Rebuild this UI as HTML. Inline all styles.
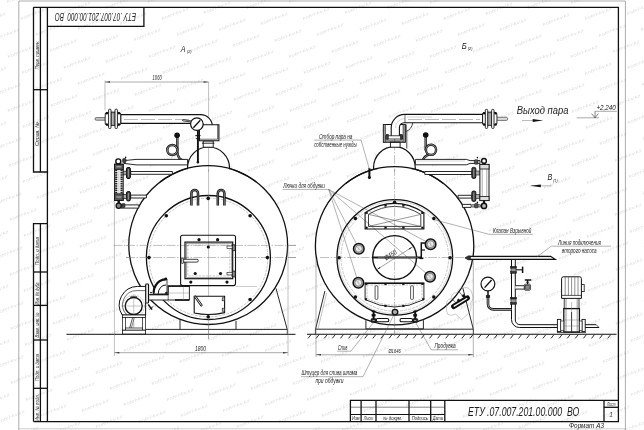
<!DOCTYPE html>
<html><head><meta charset="utf-8"><title>ЕТУ.07.007.201.00.000 ВО</title>
<style>
html,body{margin:0;padding:0;background:#fff;}
body{width:644px;height:430px;overflow:hidden;font-family:"Liberation Sans",sans-serif;}
svg{display:block;font-family:"Liberation Sans",sans-serif;will-change:transform;}
</style></head><body>
<svg width="644" height="430" viewBox="0 0 644 430">
<rect width="644" height="430" fill="#fff"/>
<defs><text id="wm" font-size="4.4" font-style="italic" textLength="29" lengthAdjust="spacingAndGlyphs" transform="rotate(-20.8)">kotel-kv.kz</text></defs>
<g fill="#dfdfdf">
<use href="#wm" x="-17" y="406"/>
<use href="#wm" x="-2" y="423"/>
<use href="#wm" x="12" y="439"/>
<use href="#wm" x="-17" y="352"/>
<use href="#wm" x="-3" y="368"/>
<use href="#wm" x="11" y="384"/>
<use href="#wm" x="26" y="401"/>
<use href="#wm" x="40" y="417"/>
<use href="#wm" x="54" y="434"/>
<use href="#wm" x="-18" y="297"/>
<use href="#wm" x="-3" y="314"/>
<use href="#wm" x="11" y="330"/>
<use href="#wm" x="25" y="346"/>
<use href="#wm" x="39" y="363"/>
<use href="#wm" x="54" y="379"/>
<use href="#wm" x="68" y="395"/>
<use href="#wm" x="82" y="412"/>
<use href="#wm" x="96" y="428"/>
<use href="#wm" x="111" y="444"/>
<use href="#wm" x="-18" y="243"/>
<use href="#wm" x="-4" y="259"/>
<use href="#wm" x="10" y="276"/>
<use href="#wm" x="24" y="292"/>
<use href="#wm" x="39" y="308"/>
<use href="#wm" x="53" y="325"/>
<use href="#wm" x="67" y="341"/>
<use href="#wm" x="82" y="357"/>
<use href="#wm" x="96" y="374"/>
<use href="#wm" x="110" y="390"/>
<use href="#wm" x="124" y="406"/>
<use href="#wm" x="139" y="423"/>
<use href="#wm" x="153" y="439"/>
<use href="#wm" x="-19" y="188"/>
<use href="#wm" x="-5" y="205"/>
<use href="#wm" x="10" y="221"/>
<use href="#wm" x="24" y="237"/>
<use href="#wm" x="38" y="254"/>
<use href="#wm" x="52" y="270"/>
<use href="#wm" x="67" y="286"/>
<use href="#wm" x="81" y="303"/>
<use href="#wm" x="95" y="319"/>
<use href="#wm" x="109" y="336"/>
<use href="#wm" x="124" y="352"/>
<use href="#wm" x="138" y="368"/>
<use href="#wm" x="152" y="385"/>
<use href="#wm" x="167" y="401"/>
<use href="#wm" x="181" y="417"/>
<use href="#wm" x="195" y="434"/>
<use href="#wm" x="-20" y="134"/>
<use href="#wm" x="-5" y="150"/>
<use href="#wm" x="9" y="167"/>
<use href="#wm" x="23" y="183"/>
<use href="#wm" x="37" y="199"/>
<use href="#wm" x="52" y="216"/>
<use href="#wm" x="66" y="232"/>
<use href="#wm" x="80" y="248"/>
<use href="#wm" x="95" y="265"/>
<use href="#wm" x="109" y="281"/>
<use href="#wm" x="123" y="297"/>
<use href="#wm" x="137" y="314"/>
<use href="#wm" x="152" y="330"/>
<use href="#wm" x="166" y="346"/>
<use href="#wm" x="180" y="363"/>
<use href="#wm" x="194" y="379"/>
<use href="#wm" x="209" y="396"/>
<use href="#wm" x="223" y="412"/>
<use href="#wm" x="237" y="428"/>
<use href="#wm" x="252" y="445"/>
<use href="#wm" x="-20" y="79"/>
<use href="#wm" x="-6" y="96"/>
<use href="#wm" x="8" y="112"/>
<use href="#wm" x="23" y="128"/>
<use href="#wm" x="37" y="145"/>
<use href="#wm" x="51" y="161"/>
<use href="#wm" x="65" y="178"/>
<use href="#wm" x="80" y="194"/>
<use href="#wm" x="94" y="210"/>
<use href="#wm" x="108" y="227"/>
<use href="#wm" x="122" y="243"/>
<use href="#wm" x="137" y="259"/>
<use href="#wm" x="151" y="276"/>
<use href="#wm" x="165" y="292"/>
<use href="#wm" x="180" y="308"/>
<use href="#wm" x="194" y="325"/>
<use href="#wm" x="208" y="341"/>
<use href="#wm" x="222" y="357"/>
<use href="#wm" x="237" y="374"/>
<use href="#wm" x="251" y="390"/>
<use href="#wm" x="265" y="406"/>
<use href="#wm" x="279" y="423"/>
<use href="#wm" x="294" y="439"/>
<use href="#wm" x="-21" y="25"/>
<use href="#wm" x="-7" y="41"/>
<use href="#wm" x="8" y="58"/>
<use href="#wm" x="22" y="74"/>
<use href="#wm" x="36" y="90"/>
<use href="#wm" x="51" y="107"/>
<use href="#wm" x="65" y="123"/>
<use href="#wm" x="79" y="139"/>
<use href="#wm" x="93" y="156"/>
<use href="#wm" x="108" y="172"/>
<use href="#wm" x="122" y="188"/>
<use href="#wm" x="136" y="205"/>
<use href="#wm" x="150" y="221"/>
<use href="#wm" x="165" y="238"/>
<use href="#wm" x="179" y="254"/>
<use href="#wm" x="193" y="270"/>
<use href="#wm" x="208" y="287"/>
<use href="#wm" x="222" y="303"/>
<use href="#wm" x="236" y="319"/>
<use href="#wm" x="250" y="336"/>
<use href="#wm" x="265" y="352"/>
<use href="#wm" x="279" y="368"/>
<use href="#wm" x="293" y="385"/>
<use href="#wm" x="307" y="401"/>
<use href="#wm" x="322" y="417"/>
<use href="#wm" x="336" y="434"/>
<use href="#wm" x="7" y="3"/>
<use href="#wm" x="21" y="20"/>
<use href="#wm" x="36" y="36"/>
<use href="#wm" x="50" y="52"/>
<use href="#wm" x="64" y="69"/>
<use href="#wm" x="78" y="85"/>
<use href="#wm" x="93" y="101"/>
<use href="#wm" x="107" y="118"/>
<use href="#wm" x="121" y="134"/>
<use href="#wm" x="136" y="150"/>
<use href="#wm" x="150" y="167"/>
<use href="#wm" x="164" y="183"/>
<use href="#wm" x="178" y="199"/>
<use href="#wm" x="193" y="216"/>
<use href="#wm" x="207" y="232"/>
<use href="#wm" x="221" y="249"/>
<use href="#wm" x="235" y="265"/>
<use href="#wm" x="250" y="281"/>
<use href="#wm" x="264" y="298"/>
<use href="#wm" x="278" y="314"/>
<use href="#wm" x="293" y="330"/>
<use href="#wm" x="307" y="347"/>
<use href="#wm" x="321" y="363"/>
<use href="#wm" x="335" y="379"/>
<use href="#wm" x="350" y="396"/>
<use href="#wm" x="364" y="412"/>
<use href="#wm" x="378" y="428"/>
<use href="#wm" x="392" y="445"/>
<use href="#wm" x="49" y="-2"/>
<use href="#wm" x="64" y="14"/>
<use href="#wm" x="78" y="30"/>
<use href="#wm" x="92" y="47"/>
<use href="#wm" x="106" y="63"/>
<use href="#wm" x="121" y="80"/>
<use href="#wm" x="135" y="96"/>
<use href="#wm" x="149" y="112"/>
<use href="#wm" x="163" y="129"/>
<use href="#wm" x="178" y="145"/>
<use href="#wm" x="192" y="161"/>
<use href="#wm" x="206" y="178"/>
<use href="#wm" x="221" y="194"/>
<use href="#wm" x="235" y="210"/>
<use href="#wm" x="249" y="227"/>
<use href="#wm" x="263" y="243"/>
<use href="#wm" x="278" y="259"/>
<use href="#wm" x="292" y="276"/>
<use href="#wm" x="306" y="292"/>
<use href="#wm" x="320" y="309"/>
<use href="#wm" x="335" y="325"/>
<use href="#wm" x="349" y="341"/>
<use href="#wm" x="363" y="358"/>
<use href="#wm" x="378" y="374"/>
<use href="#wm" x="392" y="390"/>
<use href="#wm" x="406" y="407"/>
<use href="#wm" x="420" y="423"/>
<use href="#wm" x="435" y="439"/>
<use href="#wm" x="106" y="9"/>
<use href="#wm" x="120" y="25"/>
<use href="#wm" x="134" y="41"/>
<use href="#wm" x="149" y="58"/>
<use href="#wm" x="163" y="74"/>
<use href="#wm" x="177" y="91"/>
<use href="#wm" x="191" y="107"/>
<use href="#wm" x="206" y="123"/>
<use href="#wm" x="220" y="140"/>
<use href="#wm" x="234" y="156"/>
<use href="#wm" x="248" y="172"/>
<use href="#wm" x="263" y="189"/>
<use href="#wm" x="277" y="205"/>
<use href="#wm" x="291" y="221"/>
<use href="#wm" x="306" y="238"/>
<use href="#wm" x="320" y="254"/>
<use href="#wm" x="334" y="270"/>
<use href="#wm" x="348" y="287"/>
<use href="#wm" x="363" y="303"/>
<use href="#wm" x="377" y="319"/>
<use href="#wm" x="391" y="336"/>
<use href="#wm" x="405" y="352"/>
<use href="#wm" x="420" y="369"/>
<use href="#wm" x="434" y="385"/>
<use href="#wm" x="448" y="401"/>
<use href="#wm" x="463" y="418"/>
<use href="#wm" x="477" y="434"/>
<use href="#wm" x="148" y="3"/>
<use href="#wm" x="162" y="20"/>
<use href="#wm" x="177" y="36"/>
<use href="#wm" x="191" y="52"/>
<use href="#wm" x="205" y="69"/>
<use href="#wm" x="219" y="85"/>
<use href="#wm" x="234" y="101"/>
<use href="#wm" x="248" y="118"/>
<use href="#wm" x="262" y="134"/>
<use href="#wm" x="276" y="151"/>
<use href="#wm" x="291" y="167"/>
<use href="#wm" x="305" y="183"/>
<use href="#wm" x="319" y="200"/>
<use href="#wm" x="334" y="216"/>
<use href="#wm" x="348" y="232"/>
<use href="#wm" x="362" y="249"/>
<use href="#wm" x="376" y="265"/>
<use href="#wm" x="391" y="281"/>
<use href="#wm" x="405" y="298"/>
<use href="#wm" x="419" y="314"/>
<use href="#wm" x="433" y="330"/>
<use href="#wm" x="448" y="347"/>
<use href="#wm" x="462" y="363"/>
<use href="#wm" x="476" y="380"/>
<use href="#wm" x="490" y="396"/>
<use href="#wm" x="505" y="412"/>
<use href="#wm" x="519" y="429"/>
<use href="#wm" x="533" y="445"/>
<use href="#wm" x="190" y="-2"/>
<use href="#wm" x="204" y="14"/>
<use href="#wm" x="219" y="31"/>
<use href="#wm" x="233" y="47"/>
<use href="#wm" x="247" y="63"/>
<use href="#wm" x="262" y="80"/>
<use href="#wm" x="276" y="96"/>
<use href="#wm" x="290" y="112"/>
<use href="#wm" x="304" y="129"/>
<use href="#wm" x="319" y="145"/>
<use href="#wm" x="333" y="161"/>
<use href="#wm" x="347" y="178"/>
<use href="#wm" x="361" y="194"/>
<use href="#wm" x="376" y="211"/>
<use href="#wm" x="390" y="227"/>
<use href="#wm" x="404" y="243"/>
<use href="#wm" x="419" y="260"/>
<use href="#wm" x="433" y="276"/>
<use href="#wm" x="447" y="292"/>
<use href="#wm" x="461" y="309"/>
<use href="#wm" x="476" y="325"/>
<use href="#wm" x="490" y="341"/>
<use href="#wm" x="504" y="358"/>
<use href="#wm" x="518" y="374"/>
<use href="#wm" x="533" y="390"/>
<use href="#wm" x="547" y="407"/>
<use href="#wm" x="561" y="423"/>
<use href="#wm" x="575" y="440"/>
<use href="#wm" x="247" y="9"/>
<use href="#wm" x="261" y="25"/>
<use href="#wm" x="275" y="42"/>
<use href="#wm" x="289" y="58"/>
<use href="#wm" x="304" y="74"/>
<use href="#wm" x="318" y="91"/>
<use href="#wm" x="332" y="107"/>
<use href="#wm" x="347" y="123"/>
<use href="#wm" x="361" y="140"/>
<use href="#wm" x="375" y="156"/>
<use href="#wm" x="389" y="172"/>
<use href="#wm" x="404" y="189"/>
<use href="#wm" x="418" y="205"/>
<use href="#wm" x="432" y="222"/>
<use href="#wm" x="446" y="238"/>
<use href="#wm" x="461" y="254"/>
<use href="#wm" x="475" y="271"/>
<use href="#wm" x="489" y="287"/>
<use href="#wm" x="504" y="303"/>
<use href="#wm" x="518" y="320"/>
<use href="#wm" x="532" y="336"/>
<use href="#wm" x="546" y="352"/>
<use href="#wm" x="561" y="369"/>
<use href="#wm" x="575" y="385"/>
<use href="#wm" x="589" y="401"/>
<use href="#wm" x="603" y="418"/>
<use href="#wm" x="618" y="434"/>
<use href="#wm" x="289" y="3"/>
<use href="#wm" x="303" y="20"/>
<use href="#wm" x="317" y="36"/>
<use href="#wm" x="332" y="53"/>
<use href="#wm" x="346" y="69"/>
<use href="#wm" x="360" y="85"/>
<use href="#wm" x="374" y="102"/>
<use href="#wm" x="389" y="118"/>
<use href="#wm" x="403" y="134"/>
<use href="#wm" x="417" y="151"/>
<use href="#wm" x="432" y="167"/>
<use href="#wm" x="446" y="183"/>
<use href="#wm" x="460" y="200"/>
<use href="#wm" x="474" y="216"/>
<use href="#wm" x="489" y="232"/>
<use href="#wm" x="503" y="249"/>
<use href="#wm" x="517" y="265"/>
<use href="#wm" x="531" y="282"/>
<use href="#wm" x="546" y="298"/>
<use href="#wm" x="560" y="314"/>
<use href="#wm" x="574" y="331"/>
<use href="#wm" x="589" y="347"/>
<use href="#wm" x="603" y="363"/>
<use href="#wm" x="617" y="380"/>
<use href="#wm" x="631" y="396"/>
<use href="#wm" x="646" y="412"/>
<use href="#wm" x="331" y="-2"/>
<use href="#wm" x="345" y="14"/>
<use href="#wm" x="360" y="31"/>
<use href="#wm" x="374" y="47"/>
<use href="#wm" x="388" y="64"/>
<use href="#wm" x="402" y="80"/>
<use href="#wm" x="417" y="96"/>
<use href="#wm" x="431" y="113"/>
<use href="#wm" x="445" y="129"/>
<use href="#wm" x="459" y="145"/>
<use href="#wm" x="474" y="162"/>
<use href="#wm" x="488" y="178"/>
<use href="#wm" x="502" y="194"/>
<use href="#wm" x="517" y="211"/>
<use href="#wm" x="531" y="227"/>
<use href="#wm" x="545" y="243"/>
<use href="#wm" x="559" y="260"/>
<use href="#wm" x="574" y="276"/>
<use href="#wm" x="588" y="292"/>
<use href="#wm" x="602" y="309"/>
<use href="#wm" x="616" y="325"/>
<use href="#wm" x="631" y="342"/>
<use href="#wm" x="645" y="358"/>
<use href="#wm" x="388" y="9"/>
<use href="#wm" x="402" y="25"/>
<use href="#wm" x="416" y="42"/>
<use href="#wm" x="430" y="58"/>
<use href="#wm" x="445" y="74"/>
<use href="#wm" x="459" y="91"/>
<use href="#wm" x="473" y="107"/>
<use href="#wm" x="487" y="124"/>
<use href="#wm" x="502" y="140"/>
<use href="#wm" x="516" y="156"/>
<use href="#wm" x="530" y="173"/>
<use href="#wm" x="544" y="189"/>
<use href="#wm" x="559" y="205"/>
<use href="#wm" x="573" y="222"/>
<use href="#wm" x="587" y="238"/>
<use href="#wm" x="602" y="254"/>
<use href="#wm" x="616" y="271"/>
<use href="#wm" x="630" y="287"/>
<use href="#wm" x="644" y="303"/>
<use href="#wm" x="430" y="4"/>
<use href="#wm" x="444" y="20"/>
<use href="#wm" x="458" y="36"/>
<use href="#wm" x="473" y="53"/>
<use href="#wm" x="487" y="69"/>
<use href="#wm" x="501" y="85"/>
<use href="#wm" x="515" y="102"/>
<use href="#wm" x="530" y="118"/>
<use href="#wm" x="544" y="134"/>
<use href="#wm" x="558" y="151"/>
<use href="#wm" x="572" y="167"/>
<use href="#wm" x="587" y="184"/>
<use href="#wm" x="601" y="200"/>
<use href="#wm" x="615" y="216"/>
<use href="#wm" x="630" y="233"/>
<use href="#wm" x="644" y="249"/>
<use href="#wm" x="472" y="-2"/>
<use href="#wm" x="486" y="15"/>
<use href="#wm" x="500" y="31"/>
<use href="#wm" x="515" y="47"/>
<use href="#wm" x="529" y="64"/>
<use href="#wm" x="543" y="80"/>
<use href="#wm" x="558" y="96"/>
<use href="#wm" x="572" y="113"/>
<use href="#wm" x="586" y="129"/>
<use href="#wm" x="600" y="145"/>
<use href="#wm" x="615" y="162"/>
<use href="#wm" x="629" y="178"/>
<use href="#wm" x="643" y="195"/>
<use href="#wm" x="528" y="9"/>
<use href="#wm" x="543" y="26"/>
<use href="#wm" x="557" y="42"/>
<use href="#wm" x="571" y="58"/>
<use href="#wm" x="585" y="75"/>
<use href="#wm" x="600" y="91"/>
<use href="#wm" x="614" y="107"/>
<use href="#wm" x="628" y="124"/>
<use href="#wm" x="643" y="140"/>
<use href="#wm" x="571" y="4"/>
<use href="#wm" x="585" y="20"/>
<use href="#wm" x="599" y="37"/>
<use href="#wm" x="613" y="53"/>
<use href="#wm" x="628" y="69"/>
<use href="#wm" x="642" y="86"/>
<use href="#wm" x="613" y="-2"/>
<use href="#wm" x="627" y="15"/>
<use href="#wm" x="641" y="31"/>
</g>
<path d="M18.8 430V1H625.4V430" stroke="#8a8a8a" stroke-width="0.7" fill="none"/>
<line x1="18.8" y1="428.8" x2="625.4" y2="428.8" stroke="#aaa" stroke-width="0.6" />
<path d="M33.5 7.3H618.4V421.6H33.5" stroke="#111" stroke-width="1.3" fill="none" />
<line x1="47.4" y1="7.3" x2="47.4" y2="421.6" stroke="#111" stroke-width="1.3" />
<path d="M33.5 7.3V172H47.4" stroke="#111" stroke-width="1.3" fill="none" />
<line x1="40.4" y1="7.3" x2="40.4" y2="172.0" stroke="#111" stroke-width="1.3" />
<line x1="33.5" y1="89.7" x2="47.4" y2="89.7" stroke="#111" stroke-width="1.3" />
<path d="M47.4 223.6H33.5V421.6" stroke="#111" stroke-width="1.3" fill="none" />
<line x1="40.4" y1="223.6" x2="40.4" y2="421.6" stroke="#111" stroke-width="1.3" />
<line x1="33.5" y1="272.0" x2="47.4" y2="272.0" stroke="#111" stroke-width="1.3" />
<line x1="33.5" y1="305.4" x2="47.4" y2="305.4" stroke="#111" stroke-width="1.3" />
<line x1="33.5" y1="340.0" x2="47.4" y2="340.0" stroke="#111" stroke-width="1.3" />
<line x1="33.5" y1="388.3" x2="47.4" y2="388.3" stroke="#111" stroke-width="1.3" />
<text transform="translate(39.0 55.0) rotate(-90)" font-size="5.3" font-style="italic" text-anchor="middle" fill="#222" textLength="29" lengthAdjust="spacingAndGlyphs">Перв. примен.</text>
<text transform="translate(39.0 134.0) rotate(-90)" font-size="5.3" font-style="italic" text-anchor="middle" fill="#222" textLength="24" lengthAdjust="spacingAndGlyphs">Справ. №</text>
<text transform="translate(39.0 251.0) rotate(-90)" font-size="5.3" font-style="italic" text-anchor="middle" fill="#222" textLength="28" lengthAdjust="spacingAndGlyphs">Подп. и дата</text>
<text transform="translate(39.0 293.0) rotate(-90)" font-size="5.3" font-style="italic" text-anchor="middle" fill="#222" textLength="23" lengthAdjust="spacingAndGlyphs">Инв. № дубл.</text>
<text transform="translate(39.0 325.0) rotate(-90)" font-size="5.3" font-style="italic" text-anchor="middle" fill="#222" textLength="25" lengthAdjust="spacingAndGlyphs">Взам. инв. №</text>
<text transform="translate(39.0 367.5) rotate(-90)" font-size="5.3" font-style="italic" text-anchor="middle" fill="#222" textLength="27" lengthAdjust="spacingAndGlyphs">Подп. и дата</text>
<text transform="translate(39.0 407.5) rotate(-90)" font-size="5.3" font-style="italic" text-anchor="middle" fill="#222" textLength="27" lengthAdjust="spacingAndGlyphs">Инв. № подл.</text>
<path d="M47.4 26.4H143.9V7.3" stroke="#111" stroke-width="1.3" fill="none" />
<text transform="translate(135.9 12.9) rotate(180)" font-size="11.0" font-style="italic" fill="#222" textLength="81" lengthAdjust="spacingAndGlyphs">ЕТУ .07.007.201.00.000&#160;&#160;ВО</text>
<path d="M350.4 421.6V400.3H618.4" stroke="#111" stroke-width="1.3" fill="none" />
<line x1="361.1" y1="400.3" x2="361.1" y2="421.6" stroke="#111" stroke-width="1.3" />
<line x1="376.0" y1="400.3" x2="376.0" y2="421.6" stroke="#111" stroke-width="1.3" />
<line x1="409.0" y1="400.3" x2="409.0" y2="421.6" stroke="#111" stroke-width="1.3" />
<line x1="430.7" y1="400.3" x2="430.7" y2="421.6" stroke="#111" stroke-width="1.3" />
<line x1="444.8" y1="400.3" x2="444.8" y2="421.6" stroke="#111" stroke-width="1.3" />
<line x1="350.4" y1="407.2" x2="444.8" y2="407.2" stroke="#333" stroke-width="0.6" />
<line x1="350.4" y1="414.5" x2="444.8" y2="414.5" stroke="#111" stroke-width="1.0" />
<line x1="604.0" y1="400.3" x2="604.0" y2="421.6" stroke="#111" stroke-width="1.3" />
<line x1="604.0" y1="407.3" x2="618.4" y2="407.3" stroke="#111" stroke-width="1.3" />
<text x="355.8" y="420.2" font-size="4.8" font-style="italic" text-anchor="middle" fill="#222" textLength="7.5" lengthAdjust="spacingAndGlyphs">Изм</text>
<text x="368.5" y="420.2" font-size="4.8" font-style="italic" text-anchor="middle" fill="#222" textLength="9.5" lengthAdjust="spacingAndGlyphs">Лист</text>
<text x="392.5" y="420.2" font-size="4.8" font-style="italic" text-anchor="middle" fill="#222" textLength="19" lengthAdjust="spacingAndGlyphs">№ докум.</text>
<text x="419.8" y="420.2" font-size="4.8" font-style="italic" text-anchor="middle" fill="#222" textLength="16" lengthAdjust="spacingAndGlyphs">Подпись</text>
<text x="437.8" y="420.2" font-size="4.8" font-style="italic" text-anchor="middle" fill="#222" textLength="10" lengthAdjust="spacingAndGlyphs">Дата</text>
<text x="611.2" y="405.8" font-size="4.8" font-style="italic" text-anchor="middle" fill="#222" textLength="8.6" lengthAdjust="spacingAndGlyphs">Лист</text>
<text x="611.2" y="416.9" font-size="6.6" font-style="italic" text-anchor="middle" fill="#444">1</text>
<text x="468.0" y="416.0" font-size="13.6" font-style="italic" fill="#1a1a1a" textLength="111.4" lengthAdjust="spacingAndGlyphs">ЕТУ .07.007.201.00.000&#160;&#160;ВО</text>
<text x="569.0" y="428.2" font-size="7.4" font-style="italic" fill="#222" textLength="35" lengthAdjust="spacingAndGlyphs">Формат А3</text>
<line x1="208.6" y1="82.0" x2="208.6" y2="339.0" stroke="#808080" stroke-width="0.5" />
<line x1="113.5" y1="245.4" x2="296.0" y2="245.4" stroke="#808080" stroke-width="0.5" stroke-dasharray="9 1.5 1.5 1.5"/>
<line x1="126.0" y1="257.5" x2="296.0" y2="257.5" stroke="#808080" stroke-width="0.5" stroke-dasharray="9 1.5 1.5 1.5"/>
<line x1="66.5" y1="334.3" x2="295.5" y2="334.3" stroke="#111" stroke-width="1.0" />
<line x1="145.6" y1="329.4" x2="287.3" y2="329.4" stroke="#111" stroke-width="0.9" />
<line x1="287.3" y1="329.4" x2="287.3" y2="334.3" stroke="#111" stroke-width="0.8" />
<line x1="180.0" y1="319.5" x2="180.0" y2="329.4" stroke="#111" stroke-width="0.9" />
<line x1="236.0" y1="320.8" x2="236.0" y2="329.4" stroke="#111" stroke-width="0.9" />
<line x1="276.0" y1="288.4" x2="287.2" y2="329.4" stroke="#111" stroke-width="0.9" />
<circle cx="208.2" cy="245.1" r="79.4" stroke="#111" stroke-width="1.3" fill="#fff" />
<circle cx="208.4" cy="257.5" r="62.0" stroke="#111" stroke-width="1.3" fill="none" />
<circle cx="208.4" cy="257.5" r="59.4" stroke="#777" stroke-width="0.4" fill="none" stroke-dasharray="3 1"/>
<line x1="208.6" y1="140.0" x2="208.6" y2="339.0" stroke="#808080" stroke-width="0.5" />
<line x1="126.0" y1="245.4" x2="296.0" y2="245.4" stroke="#808080" stroke-width="0.5" stroke-dasharray="9 1.5 1.5 1.5"/>
<line x1="126.0" y1="257.5" x2="296.0" y2="257.5" stroke="#808080" stroke-width="0.5" stroke-dasharray="9 1.5 1.5 1.5"/>
<circle cx="267.4" cy="257.6" r="1.8" fill="#111"/>
<circle cx="250.1" cy="299.5" r="1.8" fill="#111"/>
<circle cx="208.2" cy="316.8" r="1.8" fill="#111"/>
<circle cx="149.0" cy="257.6" r="1.8" fill="#111"/>
<circle cx="166.3" cy="215.7" r="1.8" fill="#111"/>
<circle cx="208.2" cy="198.4" r="1.8" fill="#111"/>
<circle cx="250.1" cy="215.7" r="1.8" fill="#111"/>
<path d="M191.4 205.4V193.2a3.3 3.3 0 0 1 6.6 0V205.4" stroke="#111" stroke-width="2.5" fill="none" />
<path d="M191.4 205.4V193.2a3.3 3.3 0 0 1 6.6 0V205.4" stroke="#eee" stroke-width="0.45" fill="none" />
<path d="M217.8 205.4V193.2a3.3 3.3 0 0 1 6.6 0V205.4" stroke="#111" stroke-width="2.5" fill="none" />
<path d="M217.8 205.4V193.2a3.3 3.3 0 0 1 6.6 0V205.4" stroke="#eee" stroke-width="0.45" fill="none" />
<rect x="180.6" y="235.3" width="54.9" height="50.3" rx="2" stroke="#111" stroke-width="1.1" fill="none" />
<rect x="185.0" y="242.1" width="47.7" height="36.6" rx="0" stroke="#111" stroke-width="1.2" fill="none" />
<rect x="186.3" y="243.4" width="45.1" height="34.0" rx="0" stroke="#555" stroke-width="0.5" fill="none" />
<rect x="187.8" y="245.0" width="42.0" height="30.9" rx="0" stroke="#777" stroke-width="0.4" fill="none" stroke-dasharray="2.5 1"/>
<circle cx="199.0" cy="239.7" r="1.6" fill="#111"/>
<circle cx="217.6" cy="239.7" r="1.6" fill="#111"/>
<circle cx="190.8" cy="282.1" r="1.6" fill="#111"/>
<circle cx="227.0" cy="282.1" r="1.6" fill="#111"/>
<circle cx="208.3" cy="247.0" r="1.6" fill="#111"/>
<circle cx="195.2" cy="273.5" r="1.6" fill="#111"/>
<circle cx="220.5" cy="273.5" r="1.6" fill="#111"/>
<rect x="227.0" y="246.0" width="6.0" height="2.6" rx="0" stroke="#111" stroke-width="0.6" fill="#fff" />
<rect x="232.3" y="244.8" width="3.0" height="5.8" rx="1" stroke="#111" stroke-width="0.9" fill="#888" />
<rect x="227.0" y="272.3" width="6.0" height="2.6" rx="0" stroke="#111" stroke-width="0.6" fill="#fff" />
<rect x="232.3" y="271.1" width="3.0" height="5.8" rx="1" stroke="#111" stroke-width="0.9" fill="#888" />
<rect x="181.6" y="259.3" width="16.7" height="2.8" rx="1.3" stroke="#111" stroke-width="0.8" fill="#fff" />
<rect x="181.2" y="258.2" width="2.4" height="5.2" rx="0.8" stroke="#111" stroke-width="0.7" fill="#ccc" />
<line x1="235.6" y1="286.5" x2="257.0" y2="286.5" stroke="#999" stroke-width="0.5" />
<path d="M194.2 296.2H224.6V312.6Q209 316.2 194.2 313.0Z" stroke="#111" stroke-width="1.1" fill="#fff" />
<line x1="195.3" y1="296.8" x2="201.4" y2="305.2" stroke="#111" stroke-width="2.4" stroke-linecap="round"/>
<line x1="195.3" y1="296.8" x2="201.4" y2="305.2" stroke="#fff" stroke-width="0.9" stroke-linecap="round"/>
<rect x="222.2" y="297.8" width="2.4" height="3.0" rx="0" stroke="#111" stroke-width="0.6" fill="#bbb" />
<rect x="222.2" y="308.2" width="2.4" height="3.0" rx="0" stroke="#111" stroke-width="0.6" fill="#bbb" />
<path d="M187.5 169.2V168A21 21 0 0 1 229.5 168V169.2" stroke="#111" stroke-width="1.2" fill="#fff" />
<line x1="208.6" y1="140.0" x2="208.6" y2="172.0" stroke="#808080" stroke-width="0.5" />
<path d="M160 182.0A79.4 79.4 0 0 1 256.4 182.0" stroke="#111" stroke-width="1.3" fill="none" />
<rect x="203.2" y="141.0" width="10.0" height="6.2" rx="0" stroke="#111" stroke-width="0.9" fill="#fff" />
<line x1="202.0" y1="143.2" x2="214.4" y2="143.2" stroke="#111" stroke-width="0.9" />
<path d="M120.7 114.6H200.6A11.8 11.8 0 0 1 212.4 126.4V128H203.6V126.4A3 3 0 0 0 200.6 123.4H120.7Z" stroke="#111" stroke-width="1.1" fill="#fff" />
<line x1="124.0" y1="119.5" x2="200.0" y2="119.5" stroke="#777" stroke-width="0.5" stroke-dasharray="14 3"/>
<path d="M199.3 124.8H218.9V140.7H199.3Z" stroke="#111" stroke-width="1.1" fill="#fff" />
<line x1="217.6" y1="124.8" x2="217.6" y2="139.2" stroke="#111" stroke-width="0.6" />
<line x1="199.3" y1="139.2" x2="217.6" y2="139.2" stroke="#111" stroke-width="0.6" />
<line x1="199.3" y1="130.0" x2="199.3" y2="140.7" stroke="#111" stroke-width="1.0" />
<line x1="183.2" y1="120.3" x2="191.2" y2="121.4" stroke="#111" stroke-width="2.0" stroke-linecap="round"/>
<line x1="183.2" y1="120.3" x2="191.2" y2="121.4" stroke="#fff" stroke-width="0.6" stroke-linecap="round"/>
<line x1="197.9" y1="130.0" x2="197.9" y2="162.4" stroke="#111" stroke-width="1.9" />
<line x1="195.4" y1="135.6" x2="200.6" y2="135.6" stroke="#111" stroke-width="1.0" />
<line x1="195.8" y1="138.6" x2="200.2" y2="138.6" stroke="#111" stroke-width="0.8" />
<circle cx="197.9" cy="162.3" r="1.2" fill="#111"/>
<circle cx="196.9" cy="124.1" r="6.3" stroke="#111" stroke-width="1.2" fill="#fff" />
<line x1="193.4" y1="127.8" x2="200.3" y2="120.3" stroke="#111" stroke-width="1.3" />
<path d="M177.3 136V151.8Q177.6 161.0 186.5 161.0H188.4" stroke="#111" stroke-width="2.4" fill="none" />
<path d="M177.3 136V151.8Q177.6 161.0 186.5 161.0H188.4" stroke="#ddd" stroke-width="0.6" fill="none" />
<circle cx="172.3" cy="150.0" r="5.0" stroke="#111" stroke-width="2.4" fill="none" />
<circle cx="172.3" cy="150.0" r="5.0" stroke="#ddd" stroke-width="0.6" fill="none" />
<circle cx="177.1" cy="135.2" r="2.8" fill="#111"/>
<rect x="95.0" y="117.6" width="11.4" height="2.6" rx="1.2" stroke="#444" stroke-width="0.7" fill="#ccc" />
<path d="M105.3 113.4L108.2 112.2H117.4L120.7 113.4V124.2L117.4 125.4H108.2L105.3 124.2Q104.9 119 105.3 113.4Z" stroke="#111" stroke-width="0.9" fill="#fff" />
<rect x="111.0" y="112.2" width="4.0" height="13.4" rx="0" stroke="#111" stroke-width="0.5" fill="#888" />
<line x1="112.4" y1="113.5" x2="112.4" y2="124.5" stroke="#ddd" stroke-width="0.6" />
<line x1="113.8" y1="113.5" x2="113.8" y2="124.5" stroke="#ccc" stroke-width="0.5" />
<rect x="108.6" y="109.2" width="2.4" height="19.3" rx="0.9" stroke="#111" stroke-width="0.9" fill="#fff" />
<rect x="115.0" y="109.2" width="2.4" height="19.3" rx="0.9" stroke="#111" stroke-width="0.9" fill="#fff" />
<circle cx="106.8" cy="113.2" r="1.25" fill="#111"/>
<circle cx="106.8" cy="124.4" r="1.25" fill="#111"/>
<circle cx="119.0" cy="113.2" r="1.25" fill="#111"/>
<circle cx="119.0" cy="124.4" r="1.25" fill="#111"/>
<line x1="114.4" y1="200.0" x2="114.4" y2="356.0" stroke="#808080" stroke-width="0.5" />
<path d="M124 160.6L136 159.4H187.6V164.9H136L124 163.4Z" stroke="#111" stroke-width="0.9" fill="#fff" />
<path d="M130.7 171.5H172.4V174.3H130.7Z" stroke="#111" stroke-width="0.9" fill="#fff" />
<rect x="126.5" y="167.5" width="3.9" height="11.0" rx="1.4" stroke="#111" stroke-width="1.0" fill="#444" />
<line x1="128.4" y1="169.0" x2="128.4" y2="177.0" stroke="#ccc" stroke-width="0.6" />
<path d="M130.7 195.1H146.4V198.0H130.7Z" stroke="#111" stroke-width="0.9" fill="#fff" />
<rect x="126.5" y="191.6" width="3.9" height="9.3" rx="1.4" stroke="#111" stroke-width="1.0" fill="#444" />
<line x1="128.4" y1="193.0" x2="128.4" y2="199.6" stroke="#ccc" stroke-width="0.6" />
<path d="M121 204.9H138.8V208.1H121Z" stroke="#111" stroke-width="0.9" fill="#fff" />
<rect x="114.6" y="164.2" width="8.6" height="36.2" rx="0" stroke="#111" stroke-width="1.0" fill="#fff" />
<rect x="114.6" y="164.2" width="8.6" height="5.2" rx="0" stroke="#111" stroke-width="0.8" fill="#555" />
<rect x="114.6" y="193.8" width="8.6" height="6.6" rx="0" stroke="#111" stroke-width="0.8" fill="#555" />
<line x1="116.2" y1="169.8" x2="116.2" y2="193.6" stroke="#222" stroke-width="2.2" stroke-dasharray="1.5 0.7"/>
<line x1="121.6" y1="169.8" x2="121.6" y2="193.6" stroke="#222" stroke-width="2.2" stroke-dasharray="1.5 0.7"/>
<line x1="118.9" y1="169.8" x2="118.9" y2="193.6" stroke="#888" stroke-width="0.5" />
<line x1="116.4" y1="166.8" x2="121.4" y2="166.8" stroke="#ddd" stroke-width="0.8" />
<line x1="116.4" y1="197.0" x2="121.4" y2="197.0" stroke="#ddd" stroke-width="0.8" />
<rect x="123.2" y="171.2" width="3.3" height="3.6" rx="0" stroke="#111" stroke-width="0.7" fill="#aaa" />
<rect x="123.2" y="194.6" width="3.3" height="3.8" rx="0" stroke="#111" stroke-width="0.7" fill="#aaa" />
<circle cx="118.3" cy="161.4" r="2.5" stroke="#111" stroke-width="1.4" fill="#fff" />
<line x1="118.3" y1="163.6" x2="118.3" y2="164.4" stroke="#111" stroke-width="2.4" />
<circle cx="118.7" cy="205.8" r="2.6" stroke="#111" stroke-width="1.3" fill="#808080" />
<line x1="118.7" y1="200.4" x2="118.7" y2="203.4" stroke="#111" stroke-width="2.4" />
<rect x="122.6" y="158.6" width="3.4" height="4.0" rx="0.8" stroke="#111" stroke-width="0.6" fill="#444" />
<rect x="122.0" y="203.6" width="3.0" height="4.0" rx="0.8" stroke="#111" stroke-width="0.6" fill="#444" />
<circle cx="125.6" cy="157.4" r="0.8" fill="#111"/>
<path d="M148.6 294.7H168.2V286.3H189.4V300.0H148.6Z" stroke="#111" stroke-width="0.9" fill="#fff" />
<line x1="168.2" y1="286.3" x2="168.2" y2="300.0" stroke="#111" stroke-width="0.6" />
<line x1="175.0" y1="300.0" x2="189.4" y2="300.0" stroke="#111" stroke-width="1.6" />
<line x1="167.5" y1="286.0" x2="190.0" y2="286.0" stroke="#111" stroke-width="1.5" />
<line x1="150.0" y1="294.7" x2="168.2" y2="294.7" stroke="#111" stroke-width="1.0" />
<line x1="183.4" y1="286.3" x2="183.4" y2="300.0" stroke="#777" stroke-width="0.4" />
<line x1="168.2" y1="293.0" x2="189.4" y2="293.0" stroke="#777" stroke-width="0.4" />
<path d="M153.4 294.0A12 14 0 0 1 165.4 279.6L167.0 279.0V293.8Z" stroke="#111" stroke-width="0.8" fill="#fff" />
<path d="M153.6 293.6A12 14 0 0 1 165.6 279.4" stroke="#111" stroke-width="2.2" fill="none" />
<path d="M158.2 293.8A7.5 9 0 0 1 166.0 285.0" stroke="#111" stroke-width="1.0" fill="none" />
<circle cx="165.8" cy="279.0" r="1.4" fill="#111"/>
<circle cx="166.4" cy="293.0" r="1.2" fill="#111"/>
<circle cx="151.0" cy="292.6" r="0.9" fill="#111"/>
<path d="M146.3 286.4H137.4A18.6 18.6 0 0 0 122.2 315.0H145.6V303" stroke="#111" stroke-width="1.0" fill="#fff" />
<path d="M145.6 290.6H137A14.2 14.2 0 0 0 126.5 314.6" stroke="#111" stroke-width="0.6" fill="none" />
<circle cx="133.7" cy="306.0" r="10.8" stroke="#777" stroke-width="0.4" fill="none" stroke-dasharray="2 1"/>
<circle cx="133.7" cy="306.0" r="8.5" stroke="#111" stroke-width="1.4" fill="#fff" />
<line x1="133.7" y1="294.0" x2="133.7" y2="333.0" stroke="#777" stroke-width="0.4" />
<line x1="121.0" y1="306.0" x2="147.0" y2="306.0" stroke="#777" stroke-width="0.4" />
<line x1="130.4" y1="297.0" x2="137.0" y2="297.0" stroke="#111" stroke-width="1.2" />
<rect x="145.7" y="284.0" width="2.8" height="19.0" rx="0.8" stroke="#111" stroke-width="1.2" fill="#fff" />
<line x1="148.2" y1="304.4" x2="152.0" y2="309.6" stroke="#111" stroke-width="1.6" />
<line x1="149.4" y1="309.4" x2="153.4" y2="306.4" stroke="#111" stroke-width="0.8" />
<rect x="122.4" y="315.0" width="23.2" height="2.4" rx="0" stroke="#111" stroke-width="0.8" fill="#fff" />
<rect x="122.4" y="317.4" width="3.0" height="12.8" rx="0" stroke="#111" stroke-width="0.7" fill="#fff" />
<rect x="142.5" y="317.4" width="3.1" height="12.8" rx="0" stroke="#111" stroke-width="0.7" fill="#fff" />
<rect x="125.4" y="328.0" width="17.1" height="2.2" rx="0" stroke="#111" stroke-width="0.7" fill="#fff" />
<rect x="122.4" y="330.2" width="23.2" height="3.8" rx="0" stroke="#111" stroke-width="0.8" fill="#fff" />
<line x1="132.7" y1="317.4" x2="129.7" y2="328.0" stroke="#111" stroke-width="0.7" />
<line x1="134.4" y1="317.4" x2="131.4" y2="328.0" stroke="#111" stroke-width="0.5" />
<line x1="105.0" y1="82.0" x2="208.6" y2="82.0" stroke="#555" stroke-width="0.5" />
<line x1="105.0" y1="80.5" x2="105.0" y2="110.0" stroke="#808080" stroke-width="0.5" />
<path d="M105.0 82.0L110.0 81.3L110.0 82.7Z" fill="#333"/>
<path d="M208.6 82.0L203.6 82.7L203.6 81.3Z" fill="#333"/>
<text x="152.6" y="79.8" font-size="7.5" text-anchor="start" fill="#222" font-style="italic" textLength="9.1" lengthAdjust="spacingAndGlyphs" >1060</text>
<line x1="288.0" y1="245.0" x2="288.0" y2="356.0" stroke="#808080" stroke-width="0.5" />
<line x1="114.4" y1="352.7" x2="288.0" y2="352.7" stroke="#555" stroke-width="0.5" />
<path d="M114.4 352.7L119.4 352.0L119.4 353.4Z" fill="#333"/>
<path d="M288.0 352.7L283.0 353.4L283.0 352.0Z" fill="#333"/>
<text x="195.0" y="350.8" font-size="7.5" text-anchor="start" fill="#222" font-style="italic" textLength="11.0" lengthAdjust="spacingAndGlyphs" >1800</text>
<line x1="307.0" y1="334.3" x2="616.5" y2="334.3" stroke="#111" stroke-width="1.1" />
<line x1="311.0" y1="334.6" x2="308.0" y2="338.4" stroke="#222" stroke-width="0.95" />
<line x1="319.1" y1="334.6" x2="316.1" y2="338.4" stroke="#222" stroke-width="0.95" />
<line x1="327.2" y1="334.6" x2="324.2" y2="338.4" stroke="#222" stroke-width="0.95" />
<line x1="335.3" y1="334.6" x2="332.3" y2="338.4" stroke="#222" stroke-width="0.95" />
<line x1="343.4" y1="334.6" x2="340.4" y2="338.4" stroke="#222" stroke-width="0.95" />
<line x1="351.5" y1="334.6" x2="348.5" y2="338.4" stroke="#222" stroke-width="0.95" />
<line x1="359.6" y1="334.6" x2="356.6" y2="338.4" stroke="#222" stroke-width="0.95" />
<line x1="367.7" y1="334.6" x2="364.7" y2="338.4" stroke="#222" stroke-width="0.95" />
<line x1="375.8" y1="334.6" x2="372.8" y2="338.4" stroke="#222" stroke-width="0.95" />
<line x1="383.9" y1="334.6" x2="380.9" y2="338.4" stroke="#222" stroke-width="0.95" />
<line x1="392.0" y1="334.6" x2="389.0" y2="338.4" stroke="#222" stroke-width="0.95" />
<line x1="400.1" y1="334.6" x2="397.1" y2="338.4" stroke="#222" stroke-width="0.95" />
<line x1="408.2" y1="334.6" x2="405.2" y2="338.4" stroke="#222" stroke-width="0.95" />
<line x1="416.3" y1="334.6" x2="413.3" y2="338.4" stroke="#222" stroke-width="0.95" />
<line x1="424.4" y1="334.6" x2="421.4" y2="338.4" stroke="#222" stroke-width="0.95" />
<line x1="432.5" y1="334.6" x2="429.5" y2="338.4" stroke="#222" stroke-width="0.95" />
<line x1="440.6" y1="334.6" x2="437.6" y2="338.4" stroke="#222" stroke-width="0.95" />
<line x1="448.7" y1="334.6" x2="445.7" y2="338.4" stroke="#222" stroke-width="0.95" />
<line x1="456.8" y1="334.6" x2="453.8" y2="338.4" stroke="#222" stroke-width="0.95" />
<line x1="464.9" y1="334.6" x2="461.9" y2="338.4" stroke="#222" stroke-width="0.95" />
<line x1="473.0" y1="334.6" x2="470.0" y2="338.4" stroke="#222" stroke-width="0.95" />
<line x1="481.1" y1="334.6" x2="478.1" y2="338.4" stroke="#222" stroke-width="0.95" />
<line x1="489.2" y1="334.6" x2="486.2" y2="338.4" stroke="#222" stroke-width="0.95" />
<line x1="497.3" y1="334.6" x2="494.3" y2="338.4" stroke="#222" stroke-width="0.95" />
<line x1="505.4" y1="334.6" x2="502.4" y2="338.4" stroke="#222" stroke-width="0.95" />
<line x1="513.5" y1="334.6" x2="510.5" y2="338.4" stroke="#222" stroke-width="0.95" />
<line x1="521.6" y1="334.6" x2="518.6" y2="338.4" stroke="#222" stroke-width="0.95" />
<line x1="529.7" y1="334.6" x2="526.7" y2="338.4" stroke="#222" stroke-width="0.95" />
<line x1="537.8" y1="334.6" x2="534.8" y2="338.4" stroke="#222" stroke-width="0.95" />
<line x1="545.9" y1="334.6" x2="542.9" y2="338.4" stroke="#222" stroke-width="0.95" />
<line x1="554.0" y1="334.6" x2="551.0" y2="338.4" stroke="#222" stroke-width="0.95" />
<line x1="562.1" y1="334.6" x2="559.1" y2="338.4" stroke="#222" stroke-width="0.95" />
<line x1="570.2" y1="334.6" x2="567.2" y2="338.4" stroke="#222" stroke-width="0.95" />
<line x1="578.3" y1="334.6" x2="575.3" y2="338.4" stroke="#222" stroke-width="0.95" />
<line x1="586.4" y1="334.6" x2="583.4" y2="338.4" stroke="#222" stroke-width="0.95" />
<line x1="594.5" y1="334.6" x2="591.5" y2="338.4" stroke="#222" stroke-width="0.95" />
<line x1="602.6" y1="334.6" x2="599.6" y2="338.4" stroke="#222" stroke-width="0.95" />
<line x1="610.7" y1="334.6" x2="607.7" y2="338.4" stroke="#222" stroke-width="0.95" />
<line x1="315.4" y1="329.2" x2="473.4" y2="329.2" stroke="#111" stroke-width="0.9" />
<line x1="315.4" y1="329.2" x2="315.4" y2="334.3" stroke="#111" stroke-width="0.8" />
<line x1="473.4" y1="329.2" x2="473.4" y2="334.3" stroke="#111" stroke-width="0.8" />
<line x1="324.9" y1="291.0" x2="315.6" y2="329.0" stroke="#111" stroke-width="0.9" />
<line x1="326.6" y1="293.0" x2="318.0" y2="329.0" stroke="#666" stroke-width="0.4" />
<line x1="462.8" y1="287.9" x2="473.3" y2="329.2" stroke="#111" stroke-width="0.9" />
<line x1="316.0" y1="250.0" x2="316.0" y2="357.0" stroke="#666" stroke-width="0.5" />
<line x1="473.3" y1="250.0" x2="473.3" y2="357.0" stroke="#666" stroke-width="0.5" />
<line x1="394.6" y1="128.0" x2="394.6" y2="336.0" stroke="#808080" stroke-width="0.5" stroke-dasharray="9 1.5 1.5 1.5"/>
<circle cx="394.6" cy="245.7" r="79.2" stroke="#111" stroke-width="1.3" fill="#fff" />
<path d="M365.9 320.2V328.9H423.4V320.2" stroke="#111" stroke-width="0.9" fill="none" />
<circle cx="394.8" cy="257.4" r="57.8" stroke="#111" stroke-width="1.3" fill="none" />
<circle cx="394.8" cy="257.4" r="53.8" stroke="#777" stroke-width="0.4" fill="none" stroke-dasharray="3 1"/>
<circle cx="394.8" cy="257.4" r="56.4" stroke="#999" stroke-width="0.4" fill="none" />
<line x1="394.6" y1="140.0" x2="394.6" y2="336.0" stroke="#808080" stroke-width="0.5" stroke-dasharray="9 1.5 1.5 1.5"/>
<line x1="320.0" y1="257.5" x2="466.0" y2="257.5" stroke="#808080" stroke-width="0.5" stroke-dasharray="9 1.5 1.5 1.5"/>
<line x1="328.7" y1="189.4" x2="358.8" y2="248.6" stroke="#555" stroke-width="0.45" />
<line x1="328.7" y1="189.4" x2="430.6" y2="244.0" stroke="#555" stroke-width="0.45" />
<line x1="328.7" y1="189.4" x2="358.4" y2="282.6" stroke="#555" stroke-width="0.45" />
<line x1="328.7" y1="189.4" x2="430.0" y2="276.6" stroke="#555" stroke-width="0.45" />
<line x1="434.7" y1="219.8" x2="488.9" y2="234.3" stroke="#555" stroke-width="0.45" />
<circle cx="450.1" cy="257.7" r="1.75" fill="#111"/>
<circle cx="433.8" cy="296.9" r="1.75" fill="#111"/>
<circle cx="394.6" cy="313.2" r="1.75" fill="#111"/>
<circle cx="355.4" cy="296.9" r="1.75" fill="#111"/>
<circle cx="339.1" cy="257.7" r="1.75" fill="#111"/>
<circle cx="355.4" cy="218.5" r="1.75" fill="#111"/>
<circle cx="394.6" cy="202.2" r="1.75" fill="#111"/>
<circle cx="433.8" cy="218.5" r="1.75" fill="#111"/>
<path d="M365.1 229.0V212.6Q394.6 194.2 423.9 212.6V229.0Z" stroke="#111" stroke-width="1.1" fill="none" />
<path d="M368.5 226.4V214.4Q394.6 198.4 420.8 214.4V226.4Z" stroke="#111" stroke-width="0.8" fill="none" />
<line x1="368.5" y1="214.4" x2="420.8" y2="226.4" stroke="#333" stroke-width="0.5" />
<line x1="368.5" y1="226.4" x2="420.8" y2="214.4" stroke="#333" stroke-width="0.5" />
<rect x="384.6" y="204.7" width="2.0" height="1.8" rx="0" stroke="#111" stroke-width="0.3" fill="#111" />
<rect x="402.4" y="204.7" width="2.0" height="1.8" rx="0" stroke="#111" stroke-width="0.3" fill="#111" />
<rect x="384.6" y="226.9" width="2.0" height="1.8" rx="0" stroke="#111" stroke-width="0.3" fill="#111" />
<rect x="402.4" y="226.9" width="2.0" height="1.8" rx="0" stroke="#111" stroke-width="0.3" fill="#111" />
<rect x="365.6" y="226.9" width="2.0" height="1.8" rx="0" stroke="#111" stroke-width="0.3" fill="#111" />
<rect x="421.4" y="226.9" width="2.0" height="1.8" rx="0" stroke="#111" stroke-width="0.3" fill="#111" />
<rect x="365.6" y="212.1" width="2.0" height="1.8" rx="0" stroke="#111" stroke-width="0.3" fill="#111" />
<rect x="421.4" y="212.1" width="2.0" height="1.8" rx="0" stroke="#111" stroke-width="0.3" fill="#111" />
<circle cx="394.6" cy="257.5" r="21.9" stroke="#111" stroke-width="1.4" fill="none" />
<line x1="372.7" y1="257.5" x2="421.8" y2="257.5" stroke="#1a1a1a" stroke-width="2.2" />
<line x1="378.0" y1="257.5" x2="418.0" y2="257.5" stroke="#aaa" stroke-width="0.4" />
<path d="M421.3 258.6V243.0H425.0" stroke="#111" stroke-width="1.5" fill="none" />
<line x1="419.6" y1="258.4" x2="423.4" y2="258.4" stroke="#111" stroke-width="1.4" />
<line x1="421.3" y1="250.0" x2="425.0" y2="250.0" stroke="#111" stroke-width="1.2" />
<line x1="378.0" y1="268.9" x2="411.4" y2="247.6" stroke="#444" stroke-width="0.5" />
<path d="M376.2 270.0L379.7 266.9L380.5 268.1Z" fill="#222"/>
<path d="M413.1 246.5L409.6 249.6L408.8 248.4Z" fill="#222"/>
<text transform="translate(386.0 260.6) rotate(-32.5)" font-size="6.8" font-style="italic" fill="#222" textLength="13.5" lengthAdjust="spacingAndGlyphs">Ø450</text>
<circle cx="358.8" cy="248.8" r="5.3" stroke="#111" stroke-width="1.5" fill="#b0b0b0" />
<circle cx="358.8" cy="248.8" r="3.4" stroke="#555" stroke-width="0.6" fill="#eee" />
<line x1="356.3" y1="246.3" x2="361.3" y2="251.3" stroke="#666" stroke-width="0.4" />
<line x1="358.8" y1="243.8" x2="358.8" y2="253.8" stroke="#888" stroke-width="0.3" />
<circle cx="430.6" cy="244.2" r="5.3" stroke="#111" stroke-width="1.5" fill="#b0b0b0" />
<circle cx="430.6" cy="244.2" r="3.4" stroke="#555" stroke-width="0.6" fill="#eee" />
<line x1="428.1" y1="241.7" x2="433.1" y2="246.7" stroke="#666" stroke-width="0.4" />
<line x1="430.6" y1="239.2" x2="430.6" y2="249.2" stroke="#888" stroke-width="0.3" />
<circle cx="358.4" cy="282.8" r="5.3" stroke="#111" stroke-width="1.5" fill="#b0b0b0" />
<circle cx="358.4" cy="282.8" r="3.4" stroke="#555" stroke-width="0.6" fill="#eee" />
<line x1="355.9" y1="280.3" x2="360.9" y2="285.3" stroke="#666" stroke-width="0.4" />
<line x1="358.4" y1="277.8" x2="358.4" y2="287.8" stroke="#888" stroke-width="0.3" />
<circle cx="430.0" cy="276.8" r="5.3" stroke="#111" stroke-width="1.5" fill="#b0b0b0" />
<circle cx="430.0" cy="276.8" r="3.4" stroke="#555" stroke-width="0.6" fill="#eee" />
<line x1="427.5" y1="274.3" x2="432.5" y2="279.3" stroke="#666" stroke-width="0.4" />
<line x1="430.0" y1="271.8" x2="430.0" y2="281.8" stroke="#888" stroke-width="0.3" />
<path d="M365.1 283.3H423.9V299.6Q394.6 314.4 365.1 299.6Z" stroke="#111" stroke-width="0.9" fill="none" />
<line x1="364.6" y1="283.3" x2="424.4" y2="283.3" stroke="#111" stroke-width="1.5" />
<path d="M367.0 285.0H422.0V298.4Q394.6 312.0 367.0 298.4Z" stroke="#666" stroke-width="0.4" fill="none" stroke-dasharray="2.5 1"/>
<rect x="375.1" y="285.8" width="2.8" height="13.6" rx="1" stroke="#111" stroke-width="0.7" fill="#fff" />
<rect x="410.6" y="285.8" width="2.8" height="13.6" rx="1" stroke="#111" stroke-width="0.7" fill="#fff" />
<rect x="365.3" y="283.1" width="1.8" height="1.8" rx="0" stroke="#111" stroke-width="0.3" fill="#111" />
<rect x="384.7" y="283.1" width="1.8" height="1.8" rx="0" stroke="#111" stroke-width="0.3" fill="#111" />
<rect x="402.5" y="283.1" width="1.8" height="1.8" rx="0" stroke="#111" stroke-width="0.3" fill="#111" />
<rect x="421.7" y="283.1" width="1.8" height="1.8" rx="0" stroke="#111" stroke-width="0.3" fill="#111" />
<rect x="384.7" y="305.1" width="1.8" height="1.8" rx="0" stroke="#111" stroke-width="0.3" fill="#111" />
<rect x="402.5" y="305.1" width="1.8" height="1.8" rx="0" stroke="#111" stroke-width="0.3" fill="#111" />
<rect x="365.1" y="298.3" width="1.8" height="1.8" rx="0" stroke="#111" stroke-width="0.3" fill="#111" />
<rect x="422.3" y="298.3" width="1.8" height="1.8" rx="0" stroke="#111" stroke-width="0.3" fill="#111" />
<circle cx="395.0" cy="312.1" r="2.8" stroke="#111" stroke-width="1.3" fill="#aaa" />
<rect x="376.2" y="318.5" width="12.6" height="3.3" rx="1.65" stroke="#111" stroke-width="1.1" fill="#fff" />
<line x1="373.6" y1="310.4" x2="373.6" y2="322.0" stroke="#111" stroke-width="2.0" />
<line x1="371.6" y1="311.4" x2="375.6" y2="311.4" stroke="#111" stroke-width="0.9" />
<rect x="371.9" y="314.2" width="3.4" height="2.0" rx="0" stroke="#111" stroke-width="0.4" fill="#111" />
<rect x="371.0" y="318.6" width="5.2" height="3.8" rx="0.8" stroke="#111" stroke-width="0.5" fill="#222" />
<line x1="372.6" y1="320.5" x2="374.6" y2="320.5" stroke="#ddd" stroke-width="0.7" />
<rect x="400.0" y="318.5" width="12.6" height="3.3" rx="1.65" stroke="#111" stroke-width="1.1" fill="#fff" />
<line x1="415.2" y1="310.4" x2="415.2" y2="322.0" stroke="#111" stroke-width="2.0" />
<line x1="413.2" y1="311.4" x2="417.2" y2="311.4" stroke="#111" stroke-width="0.9" />
<rect x="413.5" y="314.2" width="3.4" height="2.0" rx="0" stroke="#111" stroke-width="0.4" fill="#111" />
<rect x="412.6" y="318.6" width="5.2" height="3.8" rx="0.8" stroke="#111" stroke-width="0.5" fill="#222" />
<line x1="414.2" y1="320.5" x2="416.2" y2="320.5" stroke="#ddd" stroke-width="0.7" />
<path d="M373.6 169.2V167.5A20.8 20.8 0 0 1 415.2 167.5V169.2" stroke="#111" stroke-width="1.2" fill="#fff" />
<line x1="394.6" y1="128.0" x2="394.6" y2="172.0" stroke="#808080" stroke-width="0.5" stroke-dasharray="9 1.5 1.5 1.5"/>
<path d="M346 183.2A79.15 79.15 0 0 1 443.1 183.2" stroke="#111" stroke-width="1.3" fill="none" />
<rect x="390.4" y="142.1" width="9.7" height="5.1" rx="0" stroke="#111" stroke-width="0.9" fill="#fff" />
<path d="M482.6 114.4H404.6A13.4 13.4 0 0 0 391.2 127.8V137H399.4V127.6A4.8 4.8 0 0 1 404.2 122.8H482.6Z" stroke="#111" stroke-width="1.1" fill="#fff" />
<path d="M405 118.6A9.4 9.4 0 0 0 395.4 128" stroke="#999" stroke-width="0.4" fill="none" />
<line x1="405.0" y1="114.4" x2="405.0" y2="122.8" stroke="#111" stroke-width="0.6" />
<line x1="407.0" y1="117.0" x2="432.0" y2="117.0" stroke="#aaa" stroke-width="0.5" />
<line x1="408.0" y1="119.5" x2="480.0" y2="119.5" stroke="#777" stroke-width="0.5" stroke-dasharray="14 3"/>
<path d="M391.2 124.5H383.4V142.1H405.2V124.5H401" stroke="#111" stroke-width="1.1" fill="none" />
<rect x="383.4" y="124.5" width="2.1" height="17.6" rx="0" stroke="#111" stroke-width="0.5" fill="#999" />
<rect x="403.0" y="124.5" width="2.2" height="17.6" rx="0" stroke="#111" stroke-width="0.5" fill="#999" />
<rect x="385.7" y="135.8" width="16.9" height="3.2" rx="0" stroke="#111" stroke-width="0.8" fill="#fff" />
<rect x="386.4" y="134.2" width="2.0" height="5.2" rx="0" stroke="#111" stroke-width="0.4" fill="#333" />
<rect x="400.2" y="134.2" width="2.0" height="5.2" rx="0" stroke="#111" stroke-width="0.4" fill="#333" />
<line x1="385.7" y1="140.6" x2="402.6" y2="140.6" stroke="#111" stroke-width="0.5" />
<path d="M412.8 122.8Q411.6 129.4 406.4 131.2" stroke="#111" stroke-width="0.8" fill="none" />
<line x1="406.4" y1="124.5" x2="406.4" y2="148.6" stroke="#111" stroke-width="0.6" />
<line x1="407.6" y1="131.0" x2="407.6" y2="148.6" stroke="#666" stroke-width="0.4" />
<rect x="496.0" y="117.3" width="11.6" height="3.1" rx="1.3" stroke="#444" stroke-width="0.7" fill="#ddd" />
<path d="M482.6 113.4L485.4 112.2H494L496.8 113.4Q497.2 119 496.8 124.0L494 125.2H485.4L482.6 124.0Z" stroke="#111" stroke-width="0.9" fill="#fff" />
<rect x="487.7" y="112.2" width="3.9" height="13.4" rx="0" stroke="#111" stroke-width="0.5" fill="#888" />
<line x1="489.0" y1="113.5" x2="489.0" y2="124.5" stroke="#ddd" stroke-width="0.6" />
<line x1="490.4" y1="113.5" x2="490.4" y2="124.5" stroke="#ccc" stroke-width="0.5" />
<rect x="485.3" y="109.4" width="2.4" height="19.0" rx="0.9" stroke="#111" stroke-width="0.9" fill="#fff" />
<rect x="491.6" y="109.4" width="2.4" height="19.0" rx="0.9" stroke="#111" stroke-width="0.9" fill="#fff" />
<circle cx="484.0" cy="113.2" r="1.25" fill="#111"/>
<circle cx="484.0" cy="124.4" r="1.25" fill="#111"/>
<circle cx="495.6" cy="113.2" r="1.25" fill="#111"/>
<circle cx="495.6" cy="124.4" r="1.25" fill="#111"/>
<path d="M425.7 136V150.4M428.6 154.4Q424.6 156.4 423.0 159.6" stroke="#111" stroke-width="2.4" fill="none" />
<path d="M425.7 136V150.4M428.6 154.4Q424.6 156.4 423.0 159.6" stroke="#ddd" stroke-width="0.6" fill="none" />
<circle cx="431.0" cy="149.8" r="5.1" stroke="#111" stroke-width="2.4" fill="none" />
<circle cx="431.0" cy="149.8" r="5.1" stroke="#ddd" stroke-width="0.6" fill="none" />
<circle cx="425.7" cy="135.0" r="2.8" fill="#111"/>
<line x1="369.4" y1="168.2" x2="369.4" y2="178.0" stroke="#111" stroke-width="2.0" />
<circle cx="369.4" cy="177.6" r="1.5" fill="#111"/>
<path d="M415.4 159.4H466.3L470.1 160.6H480V163.4H470.1L466.3 164.8H415.4Z" stroke="#111" stroke-width="0.9" fill="#fff" />
<line x1="417.0" y1="161.0" x2="465.0" y2="161.0" stroke="#999" stroke-width="0.4" />
<rect x="474.4" y="159.8" width="3.6" height="4.4" rx="0.8" stroke="#111" stroke-width="0.6" fill="#555" />
<path d="M471.9 171.5H424.8V174.5H471.9Z" stroke="#111" stroke-width="0.9" fill="#fff" />
<rect x="471.9" y="167.4" width="3.9" height="11.0" rx="1.4" stroke="#111" stroke-width="1.0" fill="#444" />
<line x1="473.8" y1="169.0" x2="473.8" y2="177.0" stroke="#ccc" stroke-width="0.6" />
<path d="M471.9 195.3H458.0V198.1H471.9Z" stroke="#111" stroke-width="0.9" fill="#fff" />
<rect x="471.9" y="191.1" width="3.9" height="10.3" rx="1.4" stroke="#111" stroke-width="1.0" fill="#444" />
<line x1="473.8" y1="192.6" x2="473.8" y2="200.0" stroke="#ccc" stroke-width="0.6" />
<path d="M471 204.4H462.4V207.4H471" stroke="#111" stroke-width="0.9" fill="#fff" />
<rect x="471.0" y="204.8" width="9.4" height="2.2" rx="0" stroke="#111" stroke-width="0.6" fill="#bbb" />
<rect x="474.6" y="203.6" width="3.4" height="4.2" rx="0.8" stroke="#111" stroke-width="0.6" fill="#555" />
<rect x="475.8" y="171.0" width="4.1" height="4.0" rx="0" stroke="#111" stroke-width="0.6" fill="#aaa" />
<rect x="475.8" y="194.5" width="4.1" height="4.0" rx="0" stroke="#111" stroke-width="0.6" fill="#aaa" />
<rect x="479.9" y="164.4" width="9.1" height="36.2" rx="0" stroke="#111" stroke-width="1.0" fill="#fff" />
<line x1="482.2" y1="169.0" x2="482.2" y2="196.5" stroke="#555" stroke-width="0.5" />
<line x1="486.8" y1="169.0" x2="486.8" y2="196.5" stroke="#555" stroke-width="0.5" />
<rect x="479.9" y="164.4" width="9.1" height="4.6" rx="0" stroke="#111" stroke-width="0.8" fill="#ddd" />
<rect x="479.9" y="196.5" width="9.1" height="4.1" rx="0" stroke="#111" stroke-width="0.8" fill="#ddd" />
<circle cx="484.0" cy="160.9" r="2.4" stroke="#111" stroke-width="1.4" fill="#fff" />
<line x1="484.0" y1="163.2" x2="484.0" y2="164.4" stroke="#111" stroke-width="2.2" />
<circle cx="484.0" cy="205.9" r="2.6" stroke="#111" stroke-width="1.5" fill="#bbb" />
<line x1="484.0" y1="200.6" x2="484.0" y2="203.4" stroke="#111" stroke-width="2.2" />
<circle cx="477.4" cy="157.6" r="0.8" fill="#111"/>
<circle cx="477.4" cy="202.4" r="0.8" fill="#111"/>
<path d="M446.8 306.0Q445.6 299.6 451.0 298.6Q451.6 292.6 457.4 292.4Q458.4 287.6 463.0 287.8Q470.6 286.2 472.0 293.6Q474.4 299.0 470.6 303.0Q472.4 309.6 468.3 313.5L461.5 319.8L455.7 314.0Q451.0 316.4 447.9 314.6Q445.6 310.6 446.8 306.0Z" stroke="#999" stroke-width="0.5" fill="none" />
<line x1="452.0" y1="298.8" x2="455.7" y2="302.6" stroke="#111" stroke-width="0.6" />
<line x1="458.8" y1="291.2" x2="462.4" y2="295.8" stroke="#111" stroke-width="0.6" />
<line x1="453.6" y1="306.5" x2="467.4" y2="298.0" stroke="#111" stroke-width="5.0" stroke-linecap="round"/>
<line x1="453.8" y1="306.4" x2="467.2" y2="298.2" stroke="#f4f4f4" stroke-width="1.3" />
<line x1="457.6" y1="299.4" x2="460.0" y2="301.4" stroke="#111" stroke-width="2.4" />
<line x1="462.4" y1="295.0" x2="464.6" y2="297.0" stroke="#111" stroke-width="2.4" />
<path d="M469 256.3H550.6L555.2 259.3H469Z" stroke="#111" stroke-width="1.2" fill="#eee" />
<path d="M464.9 257.9L468 256.0H470.4V259.8H468Z" stroke="#111" stroke-width="0.6" fill="#333" />
<path d="M511.5 259.2V319.6A7.9 7.9 0 0 0 519.4 327.5H557.4" stroke="#111" stroke-width="1.0" fill="none" />
<path d="M515.3 259.2V320.0A4.7 4.7 0 0 0 520.0 324.7H557.4" stroke="#111" stroke-width="1.0" fill="none" />
<line x1="585.0" y1="324.7" x2="596.2" y2="324.7" stroke="#111" stroke-width="1.0" />
<line x1="585.0" y1="327.5" x2="599.0" y2="327.5" stroke="#111" stroke-width="1.0" />
<line x1="596.2" y1="324.7" x2="599.0" y2="327.5" stroke="#111" stroke-width="0.7" />
<rect x="510.4" y="266.4" width="6.2" height="1.7" rx="0" stroke="#111" stroke-width="0.5" fill="#333" />
<rect x="510.4" y="271.6" width="6.2" height="1.7" rx="0" stroke="#111" stroke-width="0.5" fill="#333" />
<rect x="511.0" y="268.1" width="5.0" height="3.5" rx="0" stroke="#111" stroke-width="0.6" fill="#999" />
<line x1="516.0" y1="269.8" x2="522.6" y2="269.8" stroke="#111" stroke-width="1.1" />
<line x1="522.6" y1="266.6" x2="522.6" y2="273.0" stroke="#111" stroke-width="1.5" />
<rect x="510.4" y="297.3" width="6.2" height="1.7" rx="0" stroke="#111" stroke-width="0.5" fill="#333" />
<rect x="510.4" y="302.6" width="6.2" height="1.7" rx="0" stroke="#111" stroke-width="0.5" fill="#333" />
<rect x="511.0" y="299.0" width="5.0" height="3.6" rx="0" stroke="#111" stroke-width="0.6" fill="#999" />
<path d="M515.3 285.7H524.4V289.1H515.3" stroke="#111" stroke-width="0.9" fill="#fff" />
<rect x="524.4" y="284.2" width="6.0" height="6.0" rx="1" stroke="#111" stroke-width="0.8" fill="#fff" />
<rect x="525.4" y="285.2" width="4.0" height="4.0" rx="0" stroke="#111" stroke-width="0.5" fill="#888" />
<line x1="527.6" y1="284.2" x2="527.6" y2="280.0" stroke="#111" stroke-width="1.2" />
<line x1="524.8" y1="280.0" x2="531.2" y2="280.0" stroke="#111" stroke-width="1.5" />
<line x1="526.0" y1="282.2" x2="529.2" y2="282.2" stroke="#111" stroke-width="0.8" />
<path d="M488 296.5V304.0A5.4 5.4 0 0 0 493.4 309.4H511.5" stroke="#111" stroke-width="2.6" fill="none" />
<path d="M488 296.5V304.0A5.4 5.4 0 0 0 493.4 309.4H511.5" stroke="#bbb" stroke-width="0.9" fill="none" />
<line x1="488.0" y1="290.4" x2="488.0" y2="296.6" stroke="#111" stroke-width="1.5" />
<rect x="486.2" y="295.4" width="3.6" height="2.2" rx="0" stroke="#111" stroke-width="0.5" fill="#222" />
<circle cx="487.9" cy="284.0" r="6.9" stroke="#111" stroke-width="1.2" fill="#fff" />
<line x1="484.6" y1="287.6" x2="491.6" y2="280.0" stroke="#111" stroke-width="1.4" />
<path d="M561.6 298.4V278.6Q561.6 276.8 563.4 276.8H579.6Q581.4 276.8 581.4 278.6V298.4Z" stroke="#111" stroke-width="1.0" fill="#fff" />
<line x1="565.2" y1="277.2" x2="565.2" y2="295.4" stroke="#333" stroke-width="0.55" />
<line x1="568.4" y1="277.2" x2="568.4" y2="295.4" stroke="#333" stroke-width="0.55" />
<line x1="571.6" y1="277.2" x2="571.6" y2="295.4" stroke="#333" stroke-width="0.55" />
<line x1="574.8" y1="277.2" x2="574.8" y2="295.4" stroke="#333" stroke-width="0.55" />
<line x1="578.0" y1="277.2" x2="578.0" y2="295.4" stroke="#333" stroke-width="0.55" />
<line x1="561.6" y1="295.4" x2="581.4" y2="295.4" stroke="#111" stroke-width="0.7" />
<rect x="581.4" y="284.6" width="2.8" height="7.0" rx="0" stroke="#111" stroke-width="0.8" fill="#fff" />
<rect x="564.2" y="298.4" width="14.8" height="10.2" rx="0" stroke="#111" stroke-width="0.8" fill="#fff" />
<rect x="563.8" y="308.6" width="15.6" height="23.4" rx="0" stroke="#111" stroke-width="1.3" fill="#fff" />
<line x1="566.0" y1="298.4" x2="566.0" y2="332.0" stroke="#333" stroke-width="0.5" />
<line x1="577.2" y1="298.4" x2="577.2" y2="332.0" stroke="#333" stroke-width="0.5" />
<line x1="571.6" y1="302.0" x2="571.6" y2="312.0" stroke="#666" stroke-width="0.4" />
<line x1="571.6" y1="312.0" x2="571.6" y2="332.0" stroke="#222" stroke-width="0.9" />
<line x1="563.8" y1="320.0" x2="579.4" y2="320.0" stroke="#666" stroke-width="0.4" />
<line x1="563.8" y1="326.0" x2="579.4" y2="326.0" stroke="#666" stroke-width="0.4" />
<rect x="557.4" y="319.4" width="3.4" height="12.2" rx="0" stroke="#111" stroke-width="0.9" fill="#fff" />
<rect x="560.8" y="321.0" width="3.0" height="9.4" rx="0" stroke="#111" stroke-width="0.6" fill="#fff" />
<rect x="582.0" y="319.4" width="3.2" height="12.2" rx="0" stroke="#111" stroke-width="0.9" fill="#fff" />
<rect x="579.4" y="321.0" width="2.6" height="9.4" rx="0" stroke="#111" stroke-width="0.6" fill="#fff" />
<line x1="557.0" y1="332.4" x2="586.0" y2="332.4" stroke="#111" stroke-width="0.8" />
<text x="180.8" y="52.0" font-size="9.8" text-anchor="start" fill="#222" font-style="italic" textLength="4.8" lengthAdjust="spacingAndGlyphs" >А</text>
<text x="187.0" y="53.4" font-size="4.2" text-anchor="start" fill="#222" font-style="italic" textLength="4.6" lengthAdjust="spacingAndGlyphs" >(2)</text>
<text x="461.7" y="48.9" font-size="9.8" text-anchor="start" fill="#222" font-style="italic" textLength="5.0" lengthAdjust="spacingAndGlyphs" >Б</text>
<text x="467.8" y="50.4" font-size="4.2" text-anchor="start" fill="#222" font-style="italic" textLength="4.6" lengthAdjust="spacingAndGlyphs" >(2)</text>
<text x="547.5" y="180.0" font-size="9.8" text-anchor="start" fill="#222" font-style="italic" textLength="4.8" lengthAdjust="spacingAndGlyphs" >В</text>
<text x="553.2" y="181.6" font-size="4.2" text-anchor="start" fill="#222" font-style="italic" textLength="4.4" lengthAdjust="spacingAndGlyphs" >(1)</text>
<line x1="530.4" y1="185.8" x2="551.6" y2="185.8" stroke="#777" stroke-width="0.5" />
<path d="M530.4 185.8L540.8 184.4L540.8 187.2Z" fill="#111"/>
<text x="516.8" y="113.6" font-size="11.2" text-anchor="start" fill="#222" font-style="italic" textLength="51.6" lengthAdjust="spacingAndGlyphs" >Выход пара</text>
<line x1="522.0" y1="120.5" x2="542.4" y2="120.5" stroke="#777" stroke-width="0.5" />
<path d="M542.5 120.5L532.7 121.9L532.7 119.1Z" fill="#111"/>
<text x="596.4" y="110.0" font-size="7.0" text-anchor="start" fill="#111" font-style="italic" textLength="19.2" lengthAdjust="spacingAndGlyphs" >+2,240</text>
<line x1="595.0" y1="111.3" x2="616.8" y2="111.3" stroke="#555" stroke-width="0.5" />
<line x1="576.7" y1="117.8" x2="599.0" y2="117.8" stroke="#555" stroke-width="0.5" />
<path d="M595 111.3V117.8M591.6 113.6L595 117.8L598.4 113.6" stroke="#333" stroke-width="0.6" fill="none" />
<text x="319.0" y="138.8" font-size="7.0" text-anchor="start" fill="#222" font-style="italic" textLength="33.4" lengthAdjust="spacingAndGlyphs" >Отбор пара на</text>
<text x="314.2" y="146.9" font-size="7.0" text-anchor="start" fill="#222" font-style="italic" textLength="42.4" lengthAdjust="spacingAndGlyphs" >собственные нужды</text>
<line x1="314.2" y1="140.1" x2="361.1" y2="140.1" stroke="#555" stroke-width="0.45" />
<line x1="361.1" y1="140.1" x2="369.3" y2="169.0" stroke="#555" stroke-width="0.45" />
<text x="283.3" y="188.0" font-size="6.9" text-anchor="start" fill="#222" font-style="italic" textLength="41.6" lengthAdjust="spacingAndGlyphs" >Лючки для обдувки</text>
<line x1="282.6" y1="189.4" x2="328.7" y2="189.4" stroke="#555" stroke-width="0.45" />
<text x="493.0" y="232.6" font-size="6.9" text-anchor="start" fill="#222" font-style="italic" textLength="38.4" lengthAdjust="spacingAndGlyphs" >Клапан Взрывной</text>
<line x1="488.9" y1="234.3" x2="532.8" y2="234.3" stroke="#555" stroke-width="0.45" />
<text x="558.0" y="244.6" font-size="6.9" text-anchor="start" fill="#222" font-style="italic" textLength="43.0" lengthAdjust="spacingAndGlyphs" >Линия подключения</text>
<text x="561.8" y="252.8" font-size="6.9" text-anchor="start" fill="#222" font-style="italic" textLength="34.8" lengthAdjust="spacingAndGlyphs" >второго насоса</text>
<line x1="551.2" y1="246.2" x2="611.0" y2="246.2" stroke="#555" stroke-width="0.45" />
<line x1="551.2" y1="246.2" x2="536.8" y2="257.0" stroke="#555" stroke-width="0.45" />
<text x="337.7" y="350.0" font-size="6.9" text-anchor="start" fill="#222" font-style="italic" textLength="9.6" lengthAdjust="spacingAndGlyphs" >Слив</text>
<line x1="337.0" y1="351.2" x2="351.0" y2="351.2" stroke="#555" stroke-width="0.45" />
<line x1="351.0" y1="351.2" x2="373.6" y2="322.4" stroke="#555" stroke-width="0.45" />
<text x="434.4" y="348.0" font-size="6.9" text-anchor="start" fill="#222" font-style="italic" textLength="21.2" lengthAdjust="spacingAndGlyphs" >Продувка</text>
<line x1="431.2" y1="349.8" x2="458.0" y2="349.8" stroke="#555" stroke-width="0.45" />
<line x1="431.2" y1="349.8" x2="415.6" y2="322.4" stroke="#555" stroke-width="0.45" />
<text x="301.4" y="374.6" font-size="6.9" text-anchor="start" fill="#222" font-style="italic" textLength="56.0" lengthAdjust="spacingAndGlyphs" >Штуцер для слива шлама</text>
<text x="315.4" y="383.4" font-size="6.9" text-anchor="start" fill="#222" font-style="italic" textLength="28.0" lengthAdjust="spacingAndGlyphs" >при обдувки</text>
<line x1="301.0" y1="376.7" x2="363.0" y2="376.7" stroke="#555" stroke-width="0.45" />
<line x1="363.0" y1="376.7" x2="394.0" y2="314.6" stroke="#555" stroke-width="0.45" />
<line x1="316.0" y1="354.8" x2="473.3" y2="354.8" stroke="#555" stroke-width="0.5" />
<path d="M316.0 354.8L321.0 354.1L321.0 355.5Z" fill="#333"/>
<path d="M473.3 354.8L468.3 355.5L468.3 354.1Z" fill="#333"/>
<text x="388.4" y="352.8" font-size="6.2" text-anchor="start" fill="#222" font-style="italic" textLength="12.4" lengthAdjust="spacingAndGlyphs" >Ø1646</text>
</svg>
</body></html>
